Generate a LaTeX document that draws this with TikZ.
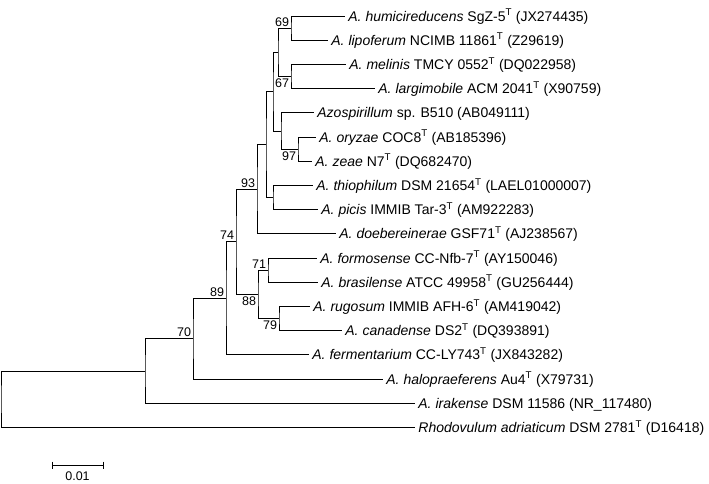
\documentclass[tikz,border=0pt]{standalone}
\usepackage{fontspec}
\setmainfont{Liberation Sans}
\usetikzlibrary{calc}
\newcommand{\tsup}{\textsuperscript{T}}
\begin{document}
\begin{tikzpicture}[x=1pt,y=-1pt,line width=0.8pt,
  leaf/.style={anchor=west,inner xsep=3.5pt,inner ysep=0pt,text height=10pt,text depth=0pt,font=\fontsize{14}{16}\selectfont},
  bootup/.style={anchor=south east,inner sep=0pt,xshift=-1.5pt,yshift=1.5pt,font=\fontsize{12.5}{14}\selectfont},
  bootdn/.style={anchor=north east,inner sep=0pt,xshift=-1.5pt,yshift=-2pt,font=\fontsize{12.5}{14}\selectfont},
  branch/.style={draw=black,line width=0.8pt}]
\useasboundingbox (0,0) rectangle (709,483);
% leaves
\node[leaf] (humi) at (344.5,16.0)  {\textit{A. humicireducens} SgZ-5\tsup{} (JX274435)};
\node[leaf] (lipo) at (327.5,40.2)  {\textit{A. lipoferum} NCIMB 11861\tsup{} (Z29619)};
\node[leaf] (meli) at (345.5,64.4)  {\textit{A. melinis} TMCY 0552\tsup{} (DQ022958)};
\node[leaf] (larg) at (374.5,88.6)  {\textit{A. largimobile} ACM 2041\tsup{} (X90759)};
\node[leaf] (b510) at (313.5,112.8) {\textit{Azospirillum} sp. B510 (AB049111)};
\node[leaf] (oryz) at (315.5,137.0) {\textit{A. oryzae} COC8\tsup{} (AB185396)};
\node[leaf] (zeae) at (311.5,161.2) {\textit{A. zeae} N7\tsup{} (DQ682470)};
\node[leaf] (thio) at (312.5,185.4) {\textit{A. thiophilum} DSM 21654\tsup{} (LAEL01000007)};
\node[leaf] (pici) at (317.5,209.6) {\textit{A. picis} IMMIB Tar-3\tsup{} (AM922283)};
\node[leaf] (doeb) at (335.5,233.8) {\textit{A. doebereinerae} GSF71\tsup{} (AJ238567)};
\node[leaf] (form) at (316.5,258.0) {\textit{A. formosense} CC-Nfb-7\tsup{} (AY150046)};
\node[leaf] (bras) at (317.5,282.2) {\textit{A. brasilense} ATCC 49958\tsup{} (GU256444)};
\node[leaf] (rugo) at (309.5,306.4) {\textit{A. rugosum} IMMIB AFH-6\tsup{} (AM419042)};
\node[leaf] (cana) at (341.5,330.6) {\textit{A. canadense} DS2\tsup{} (DQ393891)};
\node[leaf] (ferm) at (308.5,354.8) {\textit{A. fermentarium} CC-LY743\tsup{} (JX843282)};
\node[leaf] (halo) at (382.5,379.0) {\textit{A. halopraeferens} Au4\tsup{} (X79731)};
\node[leaf] (irak) at (414.5,403.2) {\textit{A. irakense} DSM 11586 (NR\_117480)};
\node[leaf] (rhod) at (414.5,427.4) {\textit{Rhodovulum adriaticum} DSM 2781\tsup{} (D16418)};
% internal nodes
\coordinate (n69) at (291,28.1);
\coordinate (n67) at (291,76.5);
\coordinate (nA)  at (278,52.3);
\coordinate (n97) at (298,149.1);
\coordinate (nB)  at (281,130.95);
\coordinate (nP1) at (273,91.6);
\coordinate (nTP) at (273,197.5);
\coordinate (nP2) at (266,144.55);
\coordinate (n93) at (257,189.2);
\coordinate (n71) at (268,270.1);
\coordinate (n79) at (279,318.5);
\coordinate (n88) at (258,294.3);
\coordinate (n74) at (236,241.75);
\coordinate (n89) at (226,298.3);
\coordinate (n70) at (193,338.65);
\coordinate (nN)  at (145,370.9);
\coordinate (root) at (1,399.15);
% branches
\draw[branch] (humi.west) -| (n69) |- (lipo.west);
\draw[branch] (meli.west) -| (n67) |- (larg.west);
\draw[branch] (n69) -| (nA) |- (n67);
\draw[branch] (oryz.west) -| (n97) |- (zeae.west);
\draw[branch] (b510.west) -| (nB) |- (n97);
\draw[branch] (nA) -| (nP1) |- (nB);
\draw[branch] (thio.west) -| (nTP) |- (pici.west);
\draw[branch] (nP1) -| (nP2) |- (nTP);
\draw[branch] (nP2) -| (n93) |- (doeb.west);
\draw[branch] (form.west) -| (n71) |- (bras.west);
\draw[branch] (rugo.west) -| (n79) |- (cana.west);
\draw[branch] (n71) -| (n88) |- (n79);
\draw[branch] (n93) -| (n74) |- (n88);
\draw[branch] (n74) -| (n89) |- (ferm.west);
\draw[branch] (n89) -| (n70) |- (halo.west);
\draw[branch] (n70) -| (nN) |- (irak.west);
\draw[branch] (nN) -| (root) |- (rhod.west);
% bootstrap values
\node[bootup] (b69) at (n69) {69};
\node[bootdn] (b67) at (n67) {67};
\node[bootdn] (b97) at (n97) {97};
\node[bootup] (b93) at (n93) {93};
\node[bootup] (b74) at (n74) {74};
\node[bootup] (b71) at (n71) {71};
\node[bootdn] (b88) at (n88) {88};
\node[bootdn] (b79) at (n79) {79};
\node[bootup] (b89) at (n89) {89};
\node[bootup] (b70) at (n70) {70};
% scale bar
\coordinate (sbL) at (52,465);
\coordinate (sbR) at (103,465);
\draw[branch] (sbL) -- (sbR);
\draw[branch] ([yshift=3.5pt]sbL) -- ([yshift=-3.5pt]sbL);
\draw[branch] ([yshift=3.5pt]sbR) -- ([yshift=-3.5pt]sbR);
\node[font=\fontsize{12.5}{14}\selectfont,anchor=north,inner sep=0pt] (sblab) at ($(sbL)!0.5!(sbR)+(0,6)$) {0.01};
\end{tikzpicture}
\end{document}
